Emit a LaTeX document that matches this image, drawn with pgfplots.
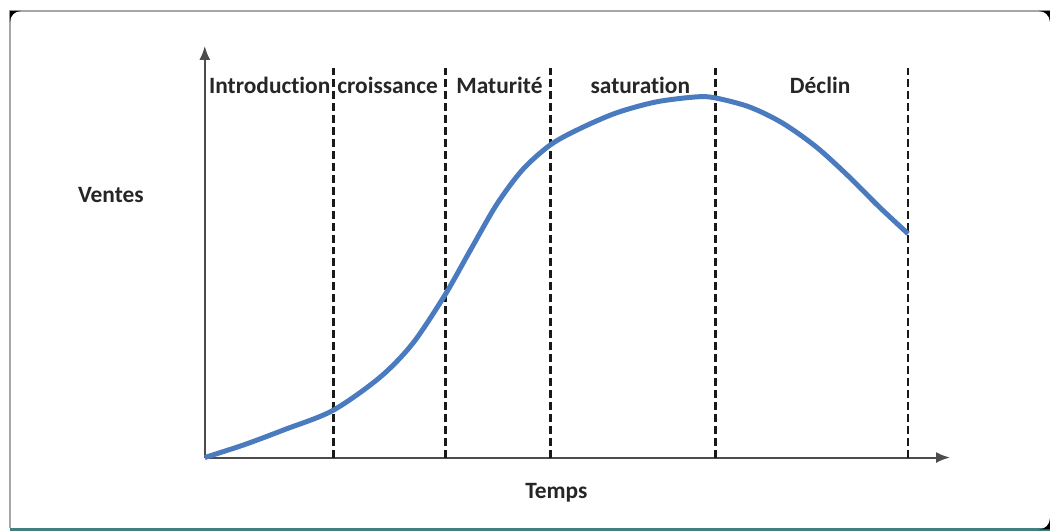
\documentclass[border=0pt]{standalone}
\usepackage{pgfplots}
\pgfplotsset{compat=1.18}
\usepackage{fontspec}
\setmainfont{Carlito}[Ligatures={NoCommon}]
\usetikzlibrary{arrows.meta}
\definecolor{curve}{HTML}{4A7BBE}
\definecolor{txt}{HTML}{262626}
\begin{document}
\begin{tikzpicture}
\begin{axis}[
  scale only axis, width=746bp, height=412bp,
  xmin=205, xmax=951, ymin=74, ymax=486,
  axis lines=left,
  axis line style={line width=2pt, color=black!70, -{Latex[length=14pt,width=11pt]}},
  ticks=none,
  clip=false,
  x=1bp, y=1bp,
]
% frame
\path (axis cs:0,0) rectangle (axis cs:1051,532);
\draw[black!35, line width=1.8pt] (axis cs:1051,521) -- (axis cs:10,521) -- (axis cs:10,3);
\draw[teal!50!gray, line width=2.2pt] (axis cs:10,2) -- (axis cs:1051,2);
\fill[black] (axis cs:10,521) -- (axis cs:21,521) arc[start angle=90, end angle=180, radius=11bp] -- cycle;
\fill[black] (axis cs:1051,521) -- (axis cs:1040,521) arc[start angle=90, end angle=0, radius=11bp] -- cycle;
\fill[black] (axis cs:1051,2) -- (axis cs:1040,2) arc[start angle=270, end angle=360, radius=11bp] -- cycle;
% dashed phase separators
\foreach \xx in {334,446,551,716,909}{
  \edef\tmp{\noexpand\addplot[black!90, line width=2.8pt, dash pattern=on 8pt off 4pt, forget plot] coordinates {(\xx,74) (\xx,464)};}
  \tmp
}
% curve
\addplot[curve, line width=5pt, smooth, tension=0.5] coordinates {
(205,74) (245,87) (285,102) (333,121) (380,154) (413,188) (445,236) (470,280)
(497,327) (523,362) (551,387) (580,403) (617,419) (657,430) (697,435) (716,434)
(750,425) (783,409) (817,385) (850,355) (880,325) (909,298)};
% labels
\begin{scope}[every node/.style={font=\fontsize{23.5}{26}\selectfont\bfseries, text=txt}]
\node at (axis cs:270,447) {Introduction};
\node at (axis cs:388,447) {croissance};
\node at (axis cs:500,447) {Maturité};
\node at (axis cs:641,447) {saturation};
\node at (axis cs:821,447) {Déclin};
\node at (axis cs:111,337) {Ventes};
\node at (axis cs:557,39) {Temps};
\end{scope}
\end{axis}
\end{tikzpicture}
\end{document}
